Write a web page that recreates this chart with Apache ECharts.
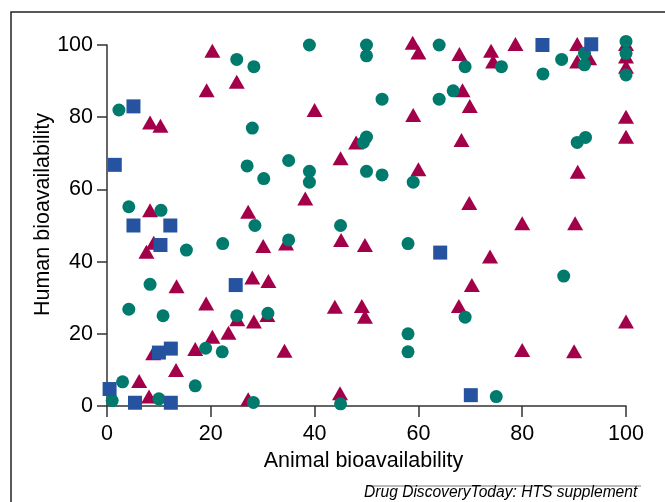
<!DOCTYPE html>
<html>
<head>
<meta charset="utf-8">
<script src="https://cdn.jsdelivr.net/npm/echarts@6/dist/echarts.min.js"></script>
<style>
  html, body { margin: 0; padding: 0; background: #fff; }
  #chart { width: 665px; height: 502px; }
</style>
</head>
<body>
<div id="chart"></div>
<script>
// [animal, human] bioavailability pairs
const triangles = [
  [20.3, 98.4], [19.2, 87.5], [25, 89.8], [8.3, 78.5], [10.3, 77.6], [8.3, 54.2],
  [40, 82], [48, 73], [45, 68.6], [38.2, 57.5], [27.2, 53.8],
  [58.9, 100.6], [60, 97.9], [67.9, 97.5], [74, 98.4], [74.4, 95.4], [68.5, 87.5],
  [69.9, 83.1], [59, 80.6], [68.3, 73.7], [60, 65.6], [69.8, 56.2],
  [78.7, 100.3], [90.6, 100.3], [90.6, 95.4], [92.9, 96.3],
  [100, 100.3], [100, 96.8], [100, 94], [100, 80.1], [100, 74.6],
  [90.7, 64.9], [80, 50.6], [90.2, 50.6],
  [9, 45.2], [7.6, 42.7], [13.4, 33.2], [19.1, 28.4], [20.3, 19.2], [23.4, 20.3],
  [17, 15.8], [8.9, 14.6], [13.3, 10], [6.2, 6.9], [8.1, 2.6],
  [25.1, 24], [28.3, 23.4], [30.9, 25.2], [34.2, 15.3], [27.2, 1.9],
  [45.1, 46], [43.9, 27.5], [49.1, 27.7], [49.7, 24.7], [44.9, 3.5], [49.7, 44.6],
  [30.1, 44.3], [34.5, 45], [28, 35.6], [31.1, 34.6],
  [73.8, 41.4], [70.3, 33.5], [67.8, 27.7], [100, 23.4], [80, 15.5], [90, 15.2]
];

const circles = [
  [2.3, 82], [25, 96], [28.3, 94], [39, 100], [50, 100], [50, 97],
  [28, 77], [27, 66.5], [30.2, 63], [35, 68], [39, 65], [39, 62],
  [49.4, 73], [50, 74.5], [50, 65], [28.5, 50], [45, 50],
  [64, 100], [69, 94], [53, 85], [64, 85], [66.7, 87.3], [53, 64], [59, 62],
  [76, 94], [84, 92], [87.6, 96], [92, 97.7], [92, 94.5],
  [100, 101], [100, 97.7], [100, 91.7], [92.2, 74.4], [90.6, 73],
  [4.2, 55.2], [10.4, 54.2], [15.3, 43.2], [22.3, 45], [8.3, 33.7], [4.2, 26.8],
  [10.8, 25], [25, 25], [19, 16], [22.2, 15], [3, 6.7], [1, 1.5], [10, 2], [17, 5.6],
  [35, 46], [31, 25.7], [28.2, 1], [45, 0.6],
  [58, 45], [69, 24.6], [58, 20], [58, 15], [75, 2.6], [88, 36]
];

const squares = [
  [0.5, 4.7], [1.5, 66.8], [5.1, 83], [5.1, 50], [5.4, 0.9],
  [10.3, 44.6], [12.2, 50], [10, 14.8], [12.3, 15.9], [12.3, 0.9],
  [24.8, 33.5], [64.2, 42.5], [70.1, 3], [83.9, 100], [93.3, 100.2]
];

const xTicks = [0, 20, 40, 60, 80, 100];
const yTicks = [0, 20, 40, 60, 80, 100];

const chart = echarts.init(document.getElementById('chart'), null, { renderer: 'canvas' });

const axisFont = { color: '#000', fontFamily: 'Liberation Sans, Arial, sans-serif', fontSize: 21.5 };

const option = {
  animation: false,
  backgroundColor: '#fff',
  grid: { left: 107, right: 39, top: 45, bottom: 96, containLabel: false },
  xAxis: {
    type: 'value',
    min: xTicks[0],
    max: xTicks[xTicks.length - 1],
    interval: 20,
    name: 'Animal bioavailability',
    nameLocation: 'middle',
    nameGap: 44,
    nameMoveOverlap: false,
    nameTextStyle: Object.assign({ padding: [0, 6, 0, 0] }, axisFont),
    axisLine: { show: true, onZero: false, lineStyle: { color: '#333', width: 1.5 } },
    axisTick: { show: true, length: 11, lineStyle: { color: '#333', width: 1.5 } },
    axisLabel: Object.assign({ margin: 17 }, axisFont),
    splitLine: { show: false }
  },
  yAxis: {
    type: 'value',
    min: yTicks[0],
    max: yTicks[yTicks.length - 1],
    interval: 20,
    name: 'Human bioavailability',
    nameLocation: 'middle',
    nameGap: 53,
    nameMoveOverlap: false,
    nameTextStyle: Object.assign({ padding: [0, 0, 0, 22] }, axisFont),
    axisLine: { show: true, onZero: false, lineStyle: { color: '#333', width: 1.5 } },
    axisTick: { show: true, length: 10, lineStyle: { color: '#333', width: 1.5 } },
    axisLabel: Object.assign({ margin: 14 }, axisFont),
    splitLine: { show: false }
  },
  series: [
    {
      name: 'triangles',
      type: 'scatter',
      clip: false,
      symbol: 'triangle',
      symbolSize: [16, 14],
      itemStyle: { color: '#a3004a', opacity: 1 },
      data: triangles
    },
    {
      name: 'circles',
      type: 'scatter',
      clip: false,
      symbol: 'circle',
      symbolSize: 13,
      itemStyle: { color: '#007a6c', opacity: 1 },
      data: circles
    },
    {
      name: 'squares',
      type: 'scatter',
      clip: false,
      symbol: 'rect',
      symbolSize: 14,
      itemStyle: { color: '#25539f', opacity: 1 },
      data: squares
    }
  ],
  graphic: [
    {
      type: 'rect',
      shape: { x: 11, y: 12, width: 700, height: 600 },
      style: { fill: 'none', stroke: '#222', lineWidth: 1.5 },
      silent: true
    },
    {
      type: 'line',
      shape: { x1: 366, y1: 486, x2: 641, y2: 486 },
      style: { stroke: '#777', lineWidth: 1 },
      silent: true
    },
    {
      type: 'text',
      left: 364,
      top: 485,
      style: {
        text: 'Drug DiscoveryToday: HTS supplement',
        fill: '#000',
        font: 'italic 15.6px "Liberation Sans", Arial, sans-serif'
      },
      silent: true
    }
  ]
};

chart.setOption(option);
</script>
</body>
</html>
